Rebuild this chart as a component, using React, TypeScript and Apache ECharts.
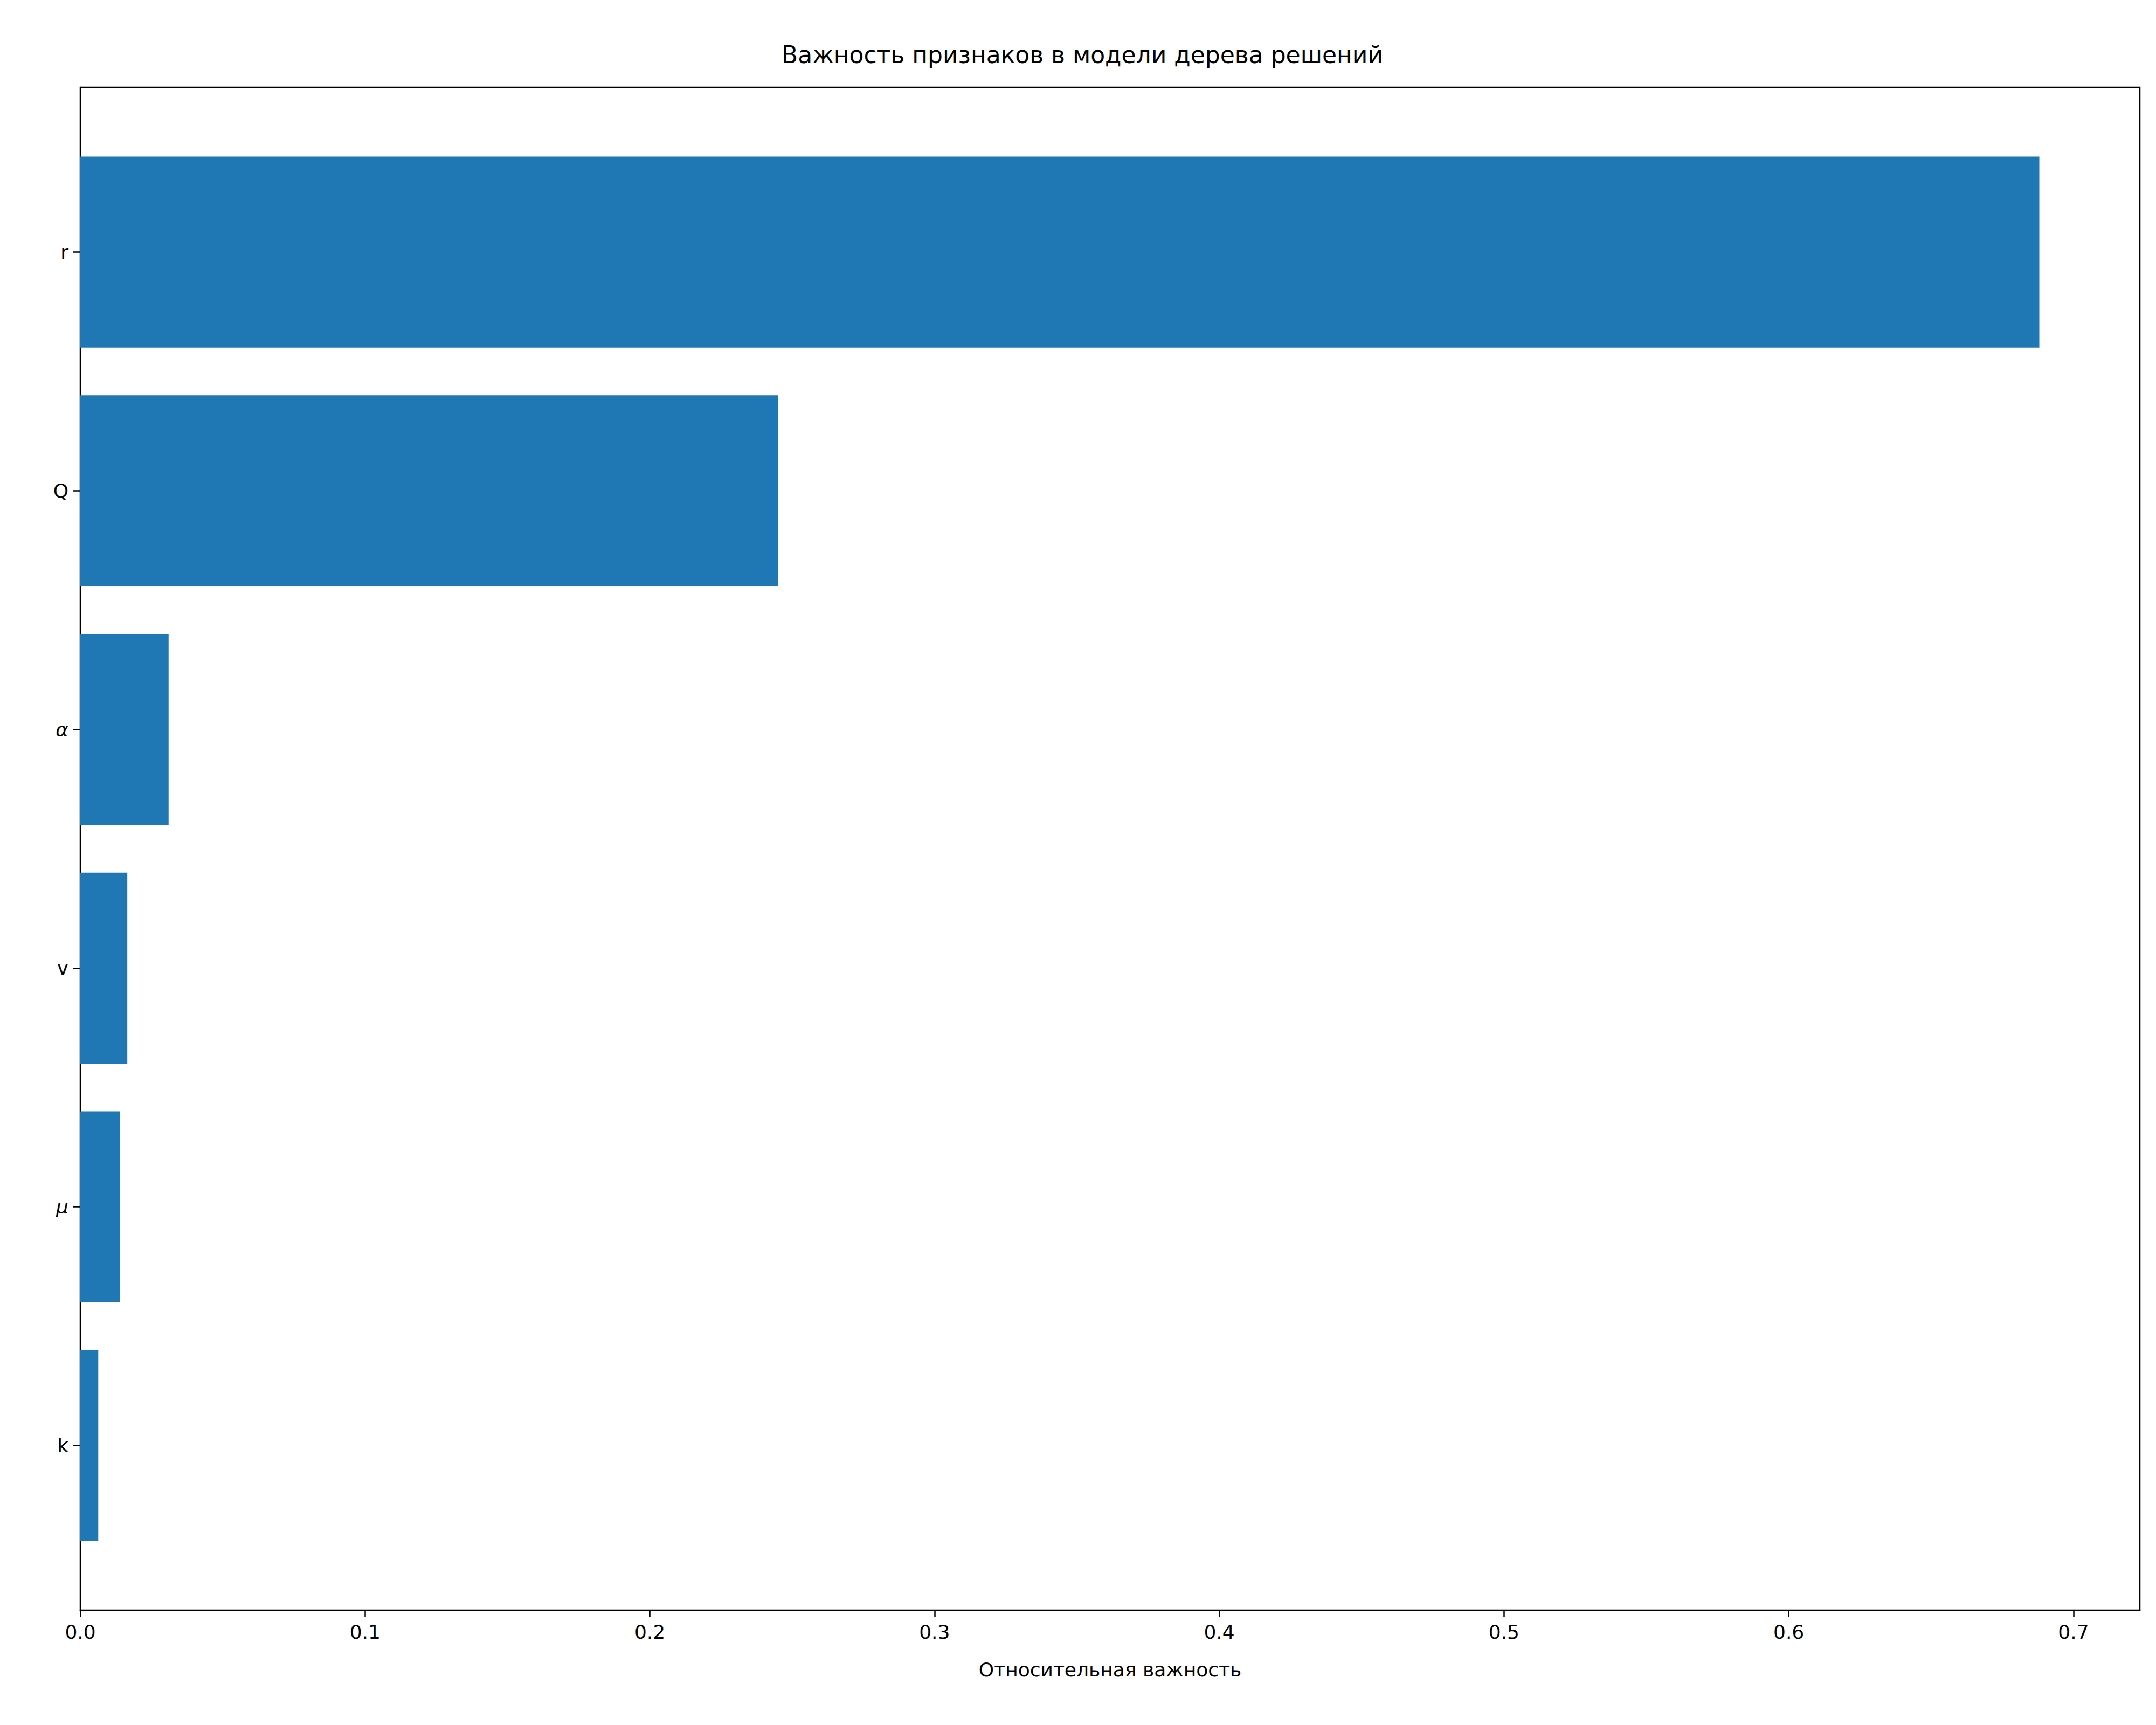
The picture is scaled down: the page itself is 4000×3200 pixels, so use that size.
import { useEffect, useRef } from "react";
import * as echarts from "echarts";

// bottom to top, as in the picture
const features = ["k", "μ", "v", "α", "Q", "r"];
const importance = [0.0063, 0.014, 0.0165, 0.031, 0.245, 0.688];
const italicNames = ["μ", "α"];
const xTicks = [0, 0.1, 0.2, 0.3, 0.4, 0.5, 0.6, 0.7];

const FONT = "DejaVu Sans";

export default function App() {
  const ref = useRef<HTMLDivElement>(null);

  useEffect(() => {
    if (!ref.current) return;
    const chart = echarts.init(ref.current, undefined, { renderer: "svg" });
    chart.setOption({
      animation: false,
      backgroundColor: "#ffffff",
      textStyle: { fontFamily: FONT },
      title: {
        text: "Важность признаков в модели дерева решений",
        left: "center",
        top: 66,
        textStyle: { fontFamily: FONT, fontSize: 44, fontWeight: "normal", color: "#000" },
      },
      grid: { left: 141, right: 38, top: 154, bottom: 221, show: true, borderColor: "#000", borderWidth: 2.5, backgroundColor: "transparent" },
      xAxis: {
        type: "value",
        min: 0,
        max: 0.7233,
        interval: 0.1,
        name: "Относительная важность",
        nameLocation: "middle",
        nameGap: 92,
        nameTextStyle: { fontSize: 36, color: "#000", fontFamily: FONT },
        splitLine: { show: false },
        axisLine: { show: true, onZero: false, lineStyle: { color: "#000", width: 2.5 } },
        axisTick: { show: true, customValues: xTicks, length: 13, lineStyle: { color: "#000", width: 2.5 } },
        axisLabel: {
          customValues: xTicks,
          fontSize: 36, color: "#000", margin: 22,
          formatter: (v: number) => v.toFixed(1),
        },
      },
      yAxis: {
        type: "value",
        min: -0.69,
        max: 5.69,
        splitLine: { show: false },
        axisLine: { show: true, onZero: false, lineStyle: { color: "#000", width: 2.5 } },
        axisTick: { show: true, customValues: features.map((_, i) => i), length: 13, lineStyle: { color: "#000", width: 2.5 } },
        axisLabel: {
          customValues: features.map((_, i) => i),
          fontSize: 36, color: "#000", margin: 22,
          formatter: (v: number) => {
            const n = features[Math.round(v)] ?? "";
            return italicNames.includes(n) ? `{i|${n}}` : n;
          },
          rich: { i: { fontStyle: "italic", fontSize: 36, color: "#000", fontFamily: FONT } },
        },
      },
      series: [{
        type: "custom",
        data: importance.map((v, i) => [v, i]),
        renderItem: (_p: any, api: any) => {
          const v = api.value(0);
          const i = api.value(1);
          const a = api.coord([0, i + 0.4]);
          const b = api.coord([v, i - 0.4]);
          return {
            type: "rect",
            shape: { x: a[0], y: a[1], width: b[0] - a[0], height: b[1] - a[1] },
            style: { fill: "#1f77b4" },
          };
        },
      }],
    });
    return () => chart.dispose();
  }, []);

  return <div ref={ref} style={{ width: 4000, height: 3200 }} />;
}
